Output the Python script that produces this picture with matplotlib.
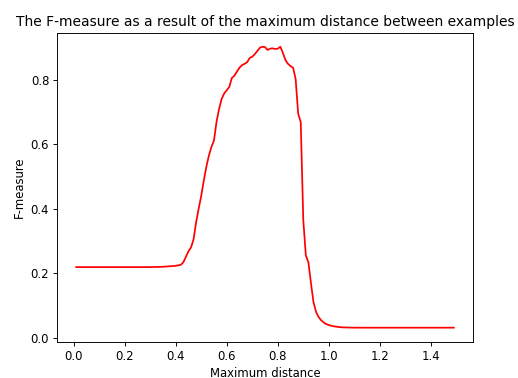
import matplotlib
matplotlib.use("Agg")
import matplotlib.pyplot as plt

max_distance = [0.01, 0.10, 0.20, 0.30, 0.35, 0.40, 0.42, 0.43, 0.45, 0.46, 0.47, 0.48, 0.49,
                0.50, 0.51, 0.52, 0.53, 0.54, 0.55, 0.56, 0.57, 0.58, 0.59, 0.60, 0.61, 0.62,
                0.63, 0.64, 0.65, 0.66, 0.67, 0.68, 0.69, 0.70, 0.71, 0.72, 0.73, 0.74, 0.75,
                0.76, 0.77, 0.78, 0.79, 0.80, 0.81, 0.82, 0.83, 0.84, 0.85, 0.86, 0.87, 0.88,
                0.89, 0.90, 0.91, 0.92, 0.93, 0.94, 0.95, 0.96, 0.97, 0.98, 0.99, 1.00, 1.02,
                1.05, 1.10, 1.20, 1.30, 1.40, 1.49]
f_measure = [0.219, 0.219, 0.219, 0.219, 0.220, 0.223, 0.226, 0.234, 0.268, 0.280, 0.305, 0.358, 0.400,
             0.440, 0.487, 0.530, 0.565, 0.592, 0.612, 0.670, 0.710, 0.741, 0.758, 0.768, 0.778, 0.806,
             0.813, 0.826, 0.838, 0.846, 0.850, 0.855, 0.868, 0.872, 0.880, 0.890, 0.900, 0.903, 0.902,
             0.893, 0.897, 0.898, 0.896, 0.897, 0.903, 0.884, 0.862, 0.850, 0.843, 0.838, 0.803, 0.695,
             0.669, 0.365, 0.255, 0.234, 0.170, 0.110, 0.080, 0.064, 0.054, 0.047, 0.042, 0.039, 0.035,
             0.032, 0.031, 0.031, 0.031, 0.031, 0.031]

s = 83.6 / 100.0
plt.rcParams['font.size'] = 10 * s

fig = plt.figure(figsize=(5.18, 3.78), dpi=100)
ax = fig.add_axes([0.1106, 0.096, 0.802, 0.8175])
ax.plot(max_distance, f_measure, color='red', linewidth=1.5 * s)
ax.set_title("The F-measure as a result of the maximum distance between examples",
             fontsize=12 * s, pad=6 * s)
ax.set_xlabel("Maximum distance", labelpad=4 * s)
ax.set_ylabel("F-measure", labelpad=4 * s)
ax.set_xticks([0.0, 0.2, 0.4, 0.6, 0.8, 1.0, 1.2, 1.4])
ax.set_yticks([0.0, 0.2, 0.4, 0.6, 0.8])
for sp in ax.spines.values():
    sp.set_linewidth(0.8 * s)
ax.tick_params(width=0.8 * s, length=3.5 * s, pad=3.5 * s)
fig.savefig("out.png", dpi=100)
